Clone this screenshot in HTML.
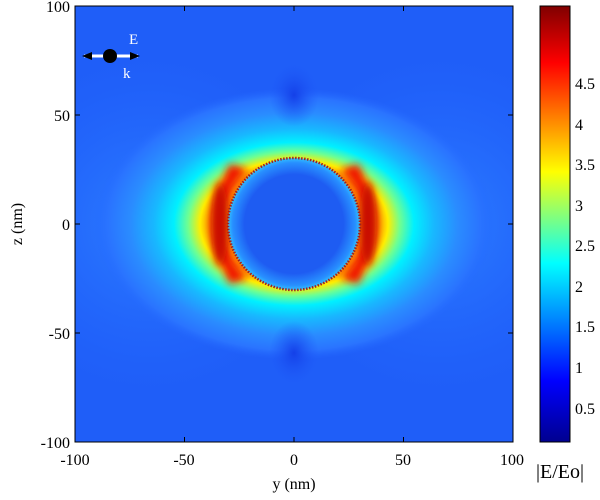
<!DOCTYPE html>
<html><head><style>
body{margin:0;background:#fff;width:600px;height:495px;overflow:hidden;font-family:"Liberation Serif",serif;}
</style></head><body>
<svg width="600" height="495" xmlns="http://www.w3.org/2000/svg">
<defs>
<linearGradient id="jet" x1="0" y1="1" x2="0" y2="0">
<stop offset="0" stop-color="#00008f"/>
<stop offset="0.14" stop-color="#0000ff"/>
<stop offset="0.41" stop-color="#00ffff"/>
<stop offset="0.62" stop-color="#ffff00"/>
<stop offset="0.87" stop-color="#ff0000"/>
<stop offset="1" stop-color="#800000"/>
</linearGradient>
<radialGradient id="halo" cx="294" cy="224" r="200" gradientUnits="userSpaceOnUse" gradientTransform="translate(294 224) scale(1 0.68) translate(-294 -224)">
<stop offset="0.42" stop-color="#ff9000"/>
<stop offset="0.47" stop-color="#ffee00"/>
<stop offset="0.53" stop-color="#70ff90"/>
<stop offset="0.6" stop-color="#00f0ff"/>
<stop offset="0.7" stop-color="#18b8ff"/>
<stop offset="0.82" stop-color="#2a8cff"/>
<stop offset="0.93" stop-color="#2a74ff"/>
<stop offset="1" stop-color="#2468ff" stop-opacity="0"/>
</radialGradient>
<radialGradient id="lobe" cx="0.5" cy="0.5" r="0.5">
<stop offset="0" stop-color="#2c80ff"/>
<stop offset="1" stop-color="#2468ff" stop-opacity="0"/>
</radialGradient>
<radialGradient id="dark" cx="0.5" cy="0.5" r="0.5">
<stop offset="0" stop-color="#1440e8"/>
<stop offset="1" stop-color="#1e58f8" stop-opacity="0"/>
</radialGradient>
<radialGradient id="inner" cx="0.5" cy="0.5" r="0.5">
<stop offset="0.75" stop-color="#1e5cf2"/>
<stop offset="0.93" stop-color="#2890ff"/>
<stop offset="1" stop-color="#30c0ff"/>
</radialGradient>
<filter id="bl"><feGaussianBlur stdDeviation="4"/></filter>
<clipPath id="pc"><rect x="75" y="6" width="438" height="436"/></clipPath>
</defs>
<g clip-path="url(#pc)">
<rect x="75" y="6" width="438" height="436" fill="#1f5ef8"/>
<ellipse cx="150" cy="224" rx="170" ry="170" fill="url(#lobe)"/>
<ellipse cx="440" cy="224" rx="170" ry="170" fill="url(#lobe)"/>
<ellipse cx="294" cy="224" rx="200" ry="136" fill="url(#halo)"/>
<ellipse cx="294" cy="95" rx="25" ry="32" fill="url(#dark)"/>
<ellipse cx="294" cy="353" rx="25" ry="32" fill="url(#dark)"/>
<g filter="url(#bl)">
<path d="M248 170 A70 70 0 0 0 248 278 L230 284 Q198 224 230 164 Z" fill="#f01800"/>
<path d="M340 170 A70 70 0 0 1 340 278 L358 284 Q390 224 358 164 Z" fill="#f01800"/>
</g>
<g filter="url(#bl)"><ellipse cx="220" cy="224" rx="8" ry="42" fill="#c81000"/><ellipse cx="368" cy="224" rx="8" ry="42" fill="#c81000"/></g>
<circle cx="294" cy="224" r="66" fill="url(#inner)"/>
<circle cx="294" cy="224" r="66" fill="none" stroke="#a02020" stroke-width="2.5" stroke-dasharray="1.5 1.5"/>
<line x1="84" y1="56" x2="138" y2="56" stroke="#fff" stroke-width="3"/>
<path d="M82 56 L92 52 L92 60Z M140 56 L130 52 L130 60Z" fill="#000"/>
<circle cx="110" cy="56" r="7" fill="#000"/>
<text x="129" y="44" fill="#fff" font-size="15">E</text>
<text x="123" y="78" fill="#fff" font-size="15">k</text>
</g>
<rect x="75" y="6" width="438" height="436" fill="none" stroke="#000" stroke-width="1"/>
<g stroke="#000" stroke-width="1">
<line x1="184.5" y1="442" x2="184.5" y2="437"/><line x1="294" y1="442" x2="294" y2="437"/><line x1="403.5" y1="442" x2="403.5" y2="437"/>
<line x1="184.5" y1="6" x2="184.5" y2="11"/><line x1="294" y1="6" x2="294" y2="11"/><line x1="403.5" y1="6" x2="403.5" y2="11"/>
<line x1="75" y1="115" x2="80" y2="115"/><line x1="75" y1="224" x2="80" y2="224"/><line x1="75" y1="333" x2="80" y2="333"/>
<line x1="513" y1="115" x2="508" y2="115"/><line x1="513" y1="224" x2="508" y2="224"/><line x1="513" y1="333" x2="508" y2="333"/>
</g>
<g font-size="16" fill="#000">
<g text-anchor="middle">
<text x="75" y="465">-100</text><text x="184" y="465">-50</text><text x="294" y="465">0</text><text x="403" y="465">50</text><text x="512" y="465">100</text>
<text x="294" y="489">y (nm)</text>
</g>
<g text-anchor="end">
<text x="70" y="12">100</text><text x="70" y="121">50</text><text x="70" y="230">0</text><text x="70" y="339">-50</text><text x="70" y="448">-100</text>
</g>
<text transform="translate(22 224) rotate(-90)" text-anchor="middle">z (nm)</text>
</g>
<rect x="540" y="6" width="30" height="436" fill="url(#jet)" stroke="#000" stroke-width="1"/>
<g font-size="16" fill="#000">
<text x="575" y="89">4.5</text><text x="575" y="130">4</text><text x="575" y="170">3.5</text><text x="575" y="211">3</text><text x="575" y="251">2.5</text><text x="575" y="292">2</text><text x="575" y="332">1.5</text><text x="575" y="373">1</text><text x="575" y="414">0.5</text>
<text x="536" y="478" font-size="20">|E/Eo|</text>
</g>
</svg>
</body></html>
